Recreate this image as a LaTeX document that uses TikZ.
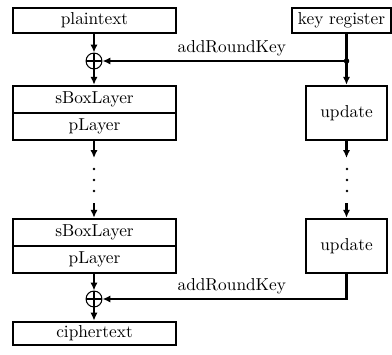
\documentclass[tikz,border=0pt]{standalone}
\usetikzlibrary{arrows.meta,calc}
\begin{document}
\begin{tikzpicture}[x=0.578pt,y=-0.578pt,
  box/.style={draw,line width=1.4pt,inner sep=0pt,minimum width=94.2pt},
  conn/.style={line width=1.4pt},
  arr/.style={conn,-{Latex[length=4.6pt,width=4.2pt]}},
  xorop/.style={circle,draw,line width=0.6pt,minimum size=9.2pt,inner sep=0pt,
    path picture={\draw[line width=0.6pt] (path picture bounding box.north) -- (path picture bounding box.south)
      (path picture bounding box.west) -- (path picture bounding box.east);}},
  vdot/.style={circle,fill,inner sep=0pt,minimum size=1.6pt},
  jdot/.style={circle,fill,inner sep=0pt,minimum size=3.2pt},
  lbl/.style={inner sep=1pt,anchor=base}]
\useasboundingbox (0,0) rectangle (392,354);
% left column
\node[box,minimum height=14.5pt] (pt) at (94.5,20.5) {plaintext};
\node[xorop] (x1) at (94,61) {};
\node[box,minimum height=15.6pt] (sb1) at (94.5,99.5) {sBoxLayer};
\node[box,minimum height=15.6pt] (pl1) at (94.5,126.5) {pLayer};
\coordinate (la) at (94,158);
\node[vdot] (ld1) at (94,169) {};
\node[vdot] (ld2) at (94,180) {};
\node[vdot] (ld3) at (94,191) {};
\coordinate (lb) at (94,203);
\node[box,minimum height=15.6pt] (sb2) at (94.5,232.5) {sBoxLayer};
\node[box,minimum height=15.6pt] (pl2) at (94.5,259.5) {pLayer};
\node[xorop] (x2) at (94,299) {};
\node[box,minimum height=13.5pt] (ct) at (94.5,333.5) {ciphertext};
% right column
\node[box,minimum width=57.2pt,minimum height=14.5pt] (kr) at (341.5,20.5) {key register};
\node[jdot] (j) at (346.5,61) {};
\node[box,minimum width=46.8pt,minimum height=31.2pt] (u1) at (346.5,113) {update};
\coordinate (ra) at (346.5,158);
\node[vdot] (rd1) at (347,169) {};
\node[vdot] (rd2) at (347,180) {};
\node[vdot] (rd3) at (347,191) {};
\coordinate (rb) at (346.5,203);
\node[box,minimum width=46.8pt,minimum height=31.2pt] (u2) at (346.5,246) {update};
\coordinate (c2) at (346.5,299);
% connectors
\draw[arr] (pt.south -| x1) -- (x1.north);
\draw[arr] (x1.south) -- (sb1.north -| x1);
\draw[arr] (pl1.south -| la) -- (la);
\draw[arr] (lb) -- (sb2.north -| lb);
\draw[arr] (pl2.south -| x2) -- (x2.north);
\draw[arr] (x2.south) -- (ct.north -| x2);
\draw[conn] (kr.south -| j) -- (j.center);
\draw[arr] (j.center) -- (u1.north);
\draw[arr] (j.center) -- (x1.east) node[lbl,pos=0.47,above=1pt] {addRoundKey};
\draw[arr] (u1.south) -- (ra);
\draw[arr] (rb) -- (u2.north);
\draw[arr] (u2.south) -- (c2) -- (x2.east) node[lbl,pos=0.47,above=1pt] {addRoundKey};
\end{tikzpicture}
\end{document}
